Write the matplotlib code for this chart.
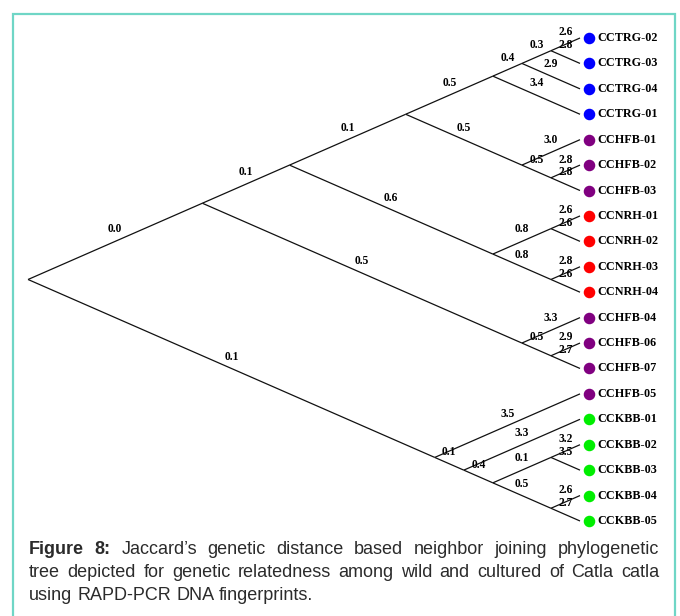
import matplotlib
matplotlib.use('Agg')
import matplotlib.pyplot as plt
from matplotlib.patches import Rectangle

# Leaves, top to bottom
leaf_names = ['CCTRG-02', 'CCTRG-03', 'CCTRG-04', 'CCTRG-01',
              'CCHFB-01', 'CCHFB-02', 'CCHFB-03',
              'CCNRH-01', 'CCNRH-02', 'CCNRH-03', 'CCNRH-04',
              'CCHFB-04', 'CCHFB-06', 'CCHFB-07', 'CCHFB-05',
              'CCKBB-01', 'CCKBB-02', 'CCKBB-03', 'CCKBB-04', 'CCKBB-05']
leaf_colors = ['#0000ff'] * 4 + ['#800080'] * 3 + ['#ff0000'] * 4 + ['#800080'] * 4 + ['#00ee00'] * 5
leaf_len = [2.6, 2.8, 2.9, 3.4, 3.0, 2.8, 2.8, 2.6, 2.6, 2.8, 2.6,
            3.3, 2.9, 2.7, 3.5, 3.3, 3.2, 3.5, 2.6, 2.7]

# Internal nodes: clade = leaves clade_start..clade_end, with branch length
clade_start = [0, 0, 0, 0, 0, 0, 0, 4, 5, 7, 7, 9, 11, 12, 14, 15, 16, 16, 18]
clade_end = [19, 13, 10, 6, 3, 2, 1, 6, 6, 10, 8, 10, 13, 13, 19, 19, 19, 17, 19]
clade_len = [None, 0.0, 0.1, 0.1, 0.5, 0.4, 0.3, 0.5, 0.5, 0.6, 0.8, 0.8,
             0.5, 0.5, 0.1, 0.1, 0.4, 0.1, 0.5]

caption_lines = [
    "Figure 8: Jaccard\u2019s genetic distance based neighbor joining phylogenetic",
    "tree depicted for genetic relatedness among wild and cultured of Catla catla",
    "using RAPD-PCR DNA fingerprints.",
]

W, H = 680, 616
fig = plt.figure(figsize=(W / 100, H / 100), dpi=100)
ax = fig.add_axes([0, 0, 1, 1])
ax.axis('off')

# pixel scale of the slanted cladogram
px_x, px_y = 58.1, 25.42
leaf_px, top_px = 580, 38
ax.set_xlim(-leaf_px / px_x, (W - leaf_px) / px_x)
ax.set_ylim((H - top_px) / px_y, -top_px / px_y)


def node_xy(s, e):
    return -(e - s) / 2.0, (s + e) / 2.0


def parent_of(s, e, skip):
    best = None
    for j in range(len(clade_start)):
        if j == skip:
            continue
        if clade_start[j] <= s and clade_end[j] >= e and (clade_start[j], clade_end[j]) != (s, e):
            if best is None or (clade_end[j] - clade_start[j]) < (clade_end[best] - clade_start[best]):
                best = j
    return best


def branch(x0, y0, x1, y1, label):
    ax.plot([x0, x1], [y0, y1], color='#111111', lw=0.9, solid_capstyle='butt')
    ax.annotate(f'{label:.1f}', ((x0 + x1) / 2, (y0 + y1) / 2), xytext=(0, 8.6),
                textcoords='offset points', ha='center', va='center',
                fontsize=8.3, fontweight='bold', family='Liberation Serif', color='black')


# internal branches
for i in range(len(clade_start)):
    p = parent_of(clade_start[i], clade_end[i], i)
    if p is None:
        continue
    x0, y0 = node_xy(clade_start[p], clade_end[p])
    x1, y1 = node_xy(clade_start[i], clade_end[i])
    branch(x0, y0, x1, y1, clade_len[i])

# leaf branches, dots and names
for k, name in enumerate(leaf_names):
    p = parent_of(k, k, -1)
    x0, y0 = node_xy(clade_start[p], clade_end[p])
    branch(x0, y0, 0, k, leaf_len[k])
    ax.plot(9 / px_x, k, 'o', color=leaf_colors[k], ms=7.3, mec=leaf_colors[k])
    ax.text(17 / px_x, k, name, ha='left', va='center', fontsize=8.7,
            fontweight='bold', family='Liberation Serif', color='black')

# frame
fig.add_artist(Rectangle((13 / W, -0.02), 662 / W, 1.02 - 14 / H, transform=fig.transFigure,
                         fill=False, edgecolor='#6fd6c6', lw=1.6))

# justified caption
renderer = fig.canvas.get_renderer()
left_px, right_px = 29, 659
base_y = 550
line_gap = 22.5
for li, line in enumerate(caption_lines):
    words = line.split(' ')
    ypix = base_y + li * line_gap
    texts = []
    for wi, w in enumerate(words):
        bold = li == 0 and wi < 2
        t = fig.text(0, 1 - ypix / H, w, fontsize=13, family='Liberation Sans',
                     fontweight='bold' if bold else 'normal', color='#2b2b2b',
                     va='center', ha='left')
        texts.append(t)
    widths = [t.get_window_extent(renderer).width for t in texts]
    if li < len(caption_lines) - 1:
        gap = (right_px - left_px - sum(widths)) / (len(words) - 1)
    else:
        gap = fig.text(0, 0, ' ', fontsize=13, family='Liberation Sans').get_window_extent(renderer).width
    x = left_px
    for t, w in zip(texts, widths):
        t.set_x(x / W)
        x += w + gap

fig.savefig('out.png', dpi=100, facecolor='white')
